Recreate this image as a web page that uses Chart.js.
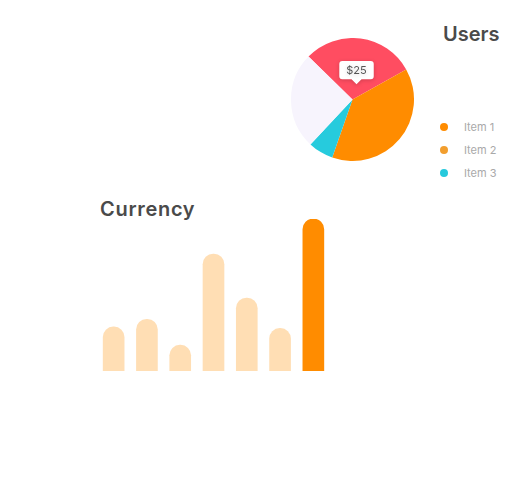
<!DOCTYPE html>
<html>
<head>
<meta charset="utf-8">
<script src="https://cdn.jsdelivr.net/npm/chart.js@4.4.0/dist/chart.umd.min.js"></script>
<style>
  html, body { margin: 0; padding: 0; background: #ffffff; width: 532px; height: 477px; overflow: hidden; position: relative; font-family: Inter, "Open Sans", sans-serif; }
  .title { position: absolute; color: #4a4a4a; font-weight: 600; font-size: 20px; line-height: 20px; white-space: nowrap; }
  #usersTitle { left: 443px; top: 24px; }
  #currencyTitle { left: 100px; top: 199px; letter-spacing: 0.7px; }
  #pieWrap { position: absolute; left: 291px; top: 38px; width: 123px; height: 123px; }
  #barWrap { position: absolute; left: 97px; top: 219px; width: 233px; height: 152px; }
  #legend { position: absolute; left: 440px; top: 115px; }
  .lg { display: flex; align-items: center; height: 23px; font-size: 11px; color: #a9a9a9; font-weight: 400; }
  .dot { width: 8px; height: 8px; border-radius: 50%; margin-right: 16px; }
</style>
</head>
<body>
<div class="title" id="usersTitle">Users</div>
<div class="title" id="currencyTitle">Currency</div>
<div id="pieWrap"><canvas id="pie" width="123" height="123"></canvas></div>
<div id="legend"></div>
<div id="barWrap"><canvas id="bar" width="233" height="152"></canvas></div>
<script>
// ---- data ----
const pieLabels = ['Red', 'Orange', 'Cyan', 'Lavender'];
const pieValues = [25, 32.5, 5.6, 21.4];
const pieColors = ['#FF4D61', '#FF8C00', '#26CBDD', '#F7F4FD'];

const legendLabels = ['Item 1', 'Item 2', 'Item 3'];
const legendColors = ['#FF8C00', '#F29E2E', '#26C9DC'];

const barCategories = ['1', '2', '3', '4', '5', '6', '7'];
const barValues = [29, 34, 17, 77, 48, 28, 100];
const barColors = ['#FFDEB4', '#FFDEB4', '#FFDEB4', '#FFDEB4', '#FFDEB4', '#FFDEB4', '#FF8C00'];

// ---- legend (HTML) ----
const lgEl = document.getElementById('legend');
legendLabels.forEach((t, i) => {
  const row = document.createElement('div');
  row.className = 'lg';
  const d = document.createElement('span');
  d.className = 'dot';
  d.style.background = legendColors[i];
  const s = document.createElement('span');
  s.textContent = t;
  row.appendChild(d); row.appendChild(s);
  lgEl.appendChild(row);
});

// ---- tooltip positioner near centre of slice ----
Chart.Tooltip.positioners.inner = function(items) {
  if (!items.length) return false;
  const el = items[0].element;
  const mid = (el.startAngle + el.endAngle) / 2;
  const r = el.outerRadius * 0.25;
  return { x: el.x + Math.cos(mid) * r + 2, y: el.y + Math.sin(mid) * r };
};

const shadowPlugin = {
  id: 'tipShadow',
  beforeTooltipDraw(chart) {
    const ctx = chart.ctx;
    ctx.save();
    ctx.shadowColor = 'rgba(0,0,0,0.18)';
    ctx.shadowBlur = 4;
    ctx.shadowOffsetY = 1;
  },
  afterTooltipDraw(chart) { chart.ctx.restore(); }
};

const pie = new Chart(document.getElementById('pie'), {
  type: 'pie',
  data: {
    labels: pieLabels,
    datasets: [{ data: pieValues, backgroundColor: pieColors, borderWidth: 0, hoverOffset: 0 }]
  },
  options: {
    responsive: false,
    animation: false,
    events: [],
    rotation: -45.7,
    layout: { padding: 0 },
    plugins: {
      legend: { display: false },
      tooltip: {
        position: 'inner',
        yAlign: 'bottom',
        xAlign: 'center',
        backgroundColor: '#ffffff',
        bodyColor: '#555555',
        bodyFont: { family: 'Inter', size: 11 },
        padding: { left: 7, right: 7, top: 3, bottom: 2 },
        cornerRadius: 3,
        caretSize: 5,
        caretPadding: 0,
        displayColors: false,
        callbacks: { title: () => '', label: (c) => '$' + c.raw }
      }
    }
  },
  plugins: [shadowPlugin]
});
pie.tooltip.setActiveElements([{ datasetIndex: 0, index: 0 }], { x: 0, y: 0 });
pie.update();

new Chart(document.getElementById('bar'), {
  type: 'bar',
  data: {
    labels: barCategories,
    datasets: [{
      data: barValues,
      backgroundColor: barColors,
      borderWidth: 0,
      barThickness: 21,
      borderRadius: { topLeft: 11, topRight: 11, bottomLeft: 0, bottomRight: 0 },
      borderSkipped: false
    }]
  },
  options: {
    responsive: false,
    animation: false,
    events: [],
    layout: { padding: 0 },
    scales: {
      x: { display: false },
      y: { display: false, min: 0, max: 100 }
    },
    plugins: { legend: { display: false }, tooltip: { enabled: false } }
  }
});
</script>
</body>
</html>
